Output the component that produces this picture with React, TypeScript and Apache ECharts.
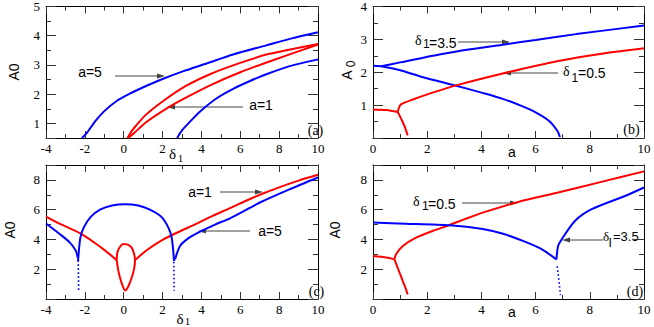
import React, { useEffect, useRef } from "react";
import * as echarts from "echarts";

// ---------- data ----------
// Panel (a): A0 vs delta1
const aBlueUpper = [[-2.15, 0.5], [-1.94, 0.64], [-1.43, 1.1], [-1.0, 1.42], [-0.4, 1.75], [0.29, 2.01], [1.15, 2.28], [2.0, 2.52], [3.04, 2.78], [4.3, 3.06], [5.63, 3.36], [7.34, 3.67], [8.6, 3.9], [10, 4.12]];
const aBlueLower = [[2.75, 0.5], [3.0, 0.76], [3.4, 1.05], [3.92, 1.4], [4.77, 1.85], [5.63, 2.18], [6.5, 2.45], [7.34, 2.68], [8.5, 2.95], [10, 3.19]];
const aRedUpper = [[0.2, 0.5], [0.35, 0.68], [0.63, 0.92], [1.15, 1.3], [2.0, 1.75], [3.2, 2.28], [4.5, 2.7], [6.0, 3.07], [7.5, 3.38], [10, 3.72]];
const aRedLower = [[0.2, 0.5], [0.5, 0.65], [1.15, 1.04], [2.18, 1.5], [3.2, 1.88], [4.5, 2.32], [6.0, 2.75], [7.5, 3.12], [10, 3.7]];

// Panel (b): A0 vs a
const bBlueFlat = [[0, 2.2], [0.3, 2.18]];
const bBlueUpper = [[0.3, 2.18], [1.0, 2.3], [2.45, 2.54], [3.6, 2.7], [4.79, 2.84], [6.0, 2.98], [7.5, 3.16], [10, 3.42]];
const bBlueLower = [[0.3, 2.18], [1.0, 2.06], [1.84, 1.85], [3.07, 1.59], [4.0, 1.38], [4.79, 1.19], [5.5, 0.97], [6.0, 0.78], [6.5, 0.52], [6.8, 0.22], [6.9, 0.03]];
const bRedFlat = [[0, 0.87], [0.5, 0.85], [0.91, 0.79]];
const bRedDown = [[0.91, 0.79], [1.0, 0.65], [1.1, 0.48], [1.2, 0.28], [1.28, 0.08]];
const bRedUp = [[0.91, 0.79], [0.95, 0.9], [1.03, 1.02], [1.47, 1.17], [2.2, 1.38], [3.07, 1.6], [4.79, 1.96], [6.83, 2.34], [8.5, 2.57], [10, 2.73]];

// Panel (c): A0 vs delta1
const cRedLeft = [[-4, 5.54], [-3.28, 5.05], [-2.25, 4.42], [-1.5, 3.78], [-1.0, 3.3], [-0.36, 2.61]];
const cRedLoop = [[-0.36, 2.61], [-0.33, 3.11], [-0.19, 3.51], [-0.02, 3.69], [0.18, 3.67], [0.41, 3.45], [0.54, 3.0], [0.58, 2.61], [0.53, 1.99], [0.41, 1.43], [0.24, 0.86], [0.08, 0.57], [-0.05, 0.86], [-0.19, 1.43], [-0.29, 1.99], [-0.36, 2.61]];
const cRedRight = [[0.62, 2.66], [1.18, 3.27], [2.04, 4.0], [2.9, 4.55], [3.76, 5.06], [4.6, 5.6], [5.47, 6.1], [6.3, 6.6], [7.1, 7.05], [8.0, 7.5], [9.0, 7.95], [10, 8.34]];
const cBlueLeft = [[-4, 5.07], [-3.28, 4.35], [-2.77, 3.79], [-2.46, 3.23], [-2.37, 2.78]];
const cBlueArc = [[-2.35, 2.55], [-2.31, 3.22], [-2.23, 4.12], [-2.06, 4.79], [-1.71, 5.5], [-1.22, 6.0], [-0.6, 6.28], [0.06, 6.37], [0.75, 6.28], [1.35, 6.0], [1.95, 5.5], [2.3, 4.79], [2.47, 4.12], [2.55, 3.22], [2.59, 2.55]];
const cBlueRight = [[2.64, 2.66], [2.9, 3.56], [3.32, 4.07], [3.93, 4.52], [4.7, 5.0], [5.47, 5.42], [7.01, 6.48], [8.5, 7.35], [10, 8.16]];
const cBlueDotL = [[-2.34, 2.6], [-2.32, 0.55]];
const cBlueDotR = [[2.58, 2.5], [2.6, 0.55]];

// Panel (d): A0 vs a
const dRedFlat = [[0, 2.88], [0.49, 2.78], [0.79, 2.66]];
const dRedDown = [[0.79, 2.66], [0.91, 2.1], [1.1, 1.2], [1.2, 0.75], [1.28, 0.3]];
const dRedUp = [[0.79, 2.66], [0.85, 3.0], [1.1, 3.56], [1.59, 4.12], [2.2, 4.57], [2.82, 4.97], [3.44, 5.4], [4.05, 5.8], [5.36, 6.52], [6.83, 7.15], [8.5, 7.9], [10, 8.57]];
const dBlueLeft = [[0, 5.13], [1.22, 5.06], [2.82, 4.95], [4.05, 4.7], [4.8, 4.38], [5.6, 3.85], [6.22, 3.35], [6.77, 2.66]];
const dBlueRight = [[6.77, 2.66], [6.83, 3.56], [6.96, 4.0], [7.45, 5.24], [8.07, 6.03], [9.3, 6.92], [10, 7.49]];
const dBlueDot = [[6.8, 2.2], [6.92, 0.26]];

// axis ranges / ticks
const xRanges = [[-4, 10], [0, 10], [-4, 10], [0, 10]];
const xSteps = [2, 2, 2, 2];
const yRanges = [[0.5, 5], [0, 4], [0, 9], [0, 9]];
const ySteps = [1, 1, 2, 2];
const yShownLabels = [[1, 2, 3, 4, 5], [1, 2, 3, 4], [2, 4, 6, 8], [2, 4, 6, 8]];

const RED = "#ff0000";
const BLUE = "#0000ff";
const SERIF = "'Liberation Serif', 'Times New Roman', serif";
const SANS = "'Liberation Sans', Arial, sans-serif";

const GRIDS = [
  { left: 46, top: 5, width: 272, height: 133 },
  { left: 373, top: 5, width: 271, height: 133 },
  { left: 46, top: 165, width: 272, height: 134 },
  { left: 373, top: 165, width: 271, height: 134 },
];

function lineSeries(data: number[][], color: string, g: number, dotted = false) {
  return {
    type: "line",
    data,
    xAxisIndex: 2 * g,
    yAxisIndex: 2 * g,
    showSymbol: false,
    symbol: "none",
    smooth: dotted ? false : 0.25,
    silent: true,
    clip: true,
    lineStyle: dotted ? { color, width: 1.6, type: [1.6, 2.4] } : { color, width: 2 },
  };
}

const tickColor = "#333";

function makeXAxis(g: number, top: boolean) {
  return {
    type: "value",
    gridIndex: g,
    position: top ? "top" : "bottom",
    min: xRanges[g][0],
    max: xRanges[g][1],
    interval: xSteps[g],
    axisLine: { onZero: false, lineStyle: { color: "#000", width: 1 } },
    axisTick: { show: true, inside: true, length: 7, lineStyle: { color: tickColor } },
    minorTick: { show: true, splitNumber: 2, length: 4, lineStyle: { color: tickColor } },
    splitLine: { show: false },
    axisLabel: top
      ? { show: false }
      : { show: true, fontFamily: SERIF, fontSize: 13, color: "#000", margin: 4 },
  };
}

function makeYAxis(g: number, right: boolean) {
  const base: any = {
    type: "value",
    gridIndex: g,
    position: right ? "right" : "left",
    min: yRanges[g][0],
    max: yRanges[g][1],
    axisLine: { onZero: false, lineStyle: { color: "#000", width: 1 } },
    axisTick: { show: true, inside: true, length: 10, lineStyle: { color: tickColor } },
    minorTick: { show: true, splitNumber: 2, length: 5, lineStyle: { color: tickColor } },
    splitLine: { show: false },
    axisLabel: right
      ? { show: false }
      : {
          show: true,
          fontFamily: SERIF,
          fontSize: 13,
          color: "#000",
          margin: 6,
          formatter: (v: number) => (yShownLabels[g].some((s) => Math.abs(s - v) < 1e-6) ? String(v) : ""),
        },
  };
  if (yRanges[g][0] % ySteps[g] === 0) {
    base.interval = ySteps[g];
  } else {
    base.minInterval = ySteps[g];
    base.maxInterval = ySteps[g];
  }
  return base;
}

function txt(x: number, y: number, text: string, size: number, family: string, align = "center") {
  return {
    type: "text",
    x,
    y,
    silent: true,
    style: {
      text,
      fontSize: size,
      fontFamily: family,
      fill: "#000",
      align,
      verticalAlign: "middle",
      textAlign: align,
      textVerticalAlign: "middle",
    },
  };
}

function arrow(x1: number, y: number, x2: number) {
  const dir = x2 > x1 ? 1 : -1;
  return [
    { type: "line", silent: true, shape: { x1, y1: y, x2: x2 - dir * 5, y2: y }, style: { stroke: "#444", lineWidth: 1 } },
    {
      type: "polygon",
      silent: true,
      shape: { points: [[x2, y], [x2 - dir * 8, y - 2.5], [x2 - dir * 8, y + 2.5]] },
      style: { fill: "#444" },
    },
  ];
}

function rotated(x: number, y: number, parts: any[]) {
  return { type: "group", x, y, rotation: Math.PI / 2, children: parts };
}

export default function App() {
  const ref = useRef<HTMLDivElement>(null);
  useEffect(() => {
    if (!ref.current) return;
    const chart = echarts.init(ref.current, undefined, { renderer: "svg" });
    const xAxis: any[] = [];
    const yAxis: any[] = [];
    for (let g = 0; g < 4; g++) {
      xAxis.push(makeXAxis(g, false), makeXAxis(g, true));
      yAxis.push(makeYAxis(g, false), makeYAxis(g, true));
    }
    const series = [
      lineSeries(aBlueUpper, BLUE, 0),
      lineSeries(aBlueLower, BLUE, 0),
      lineSeries(aRedUpper, RED, 0),
      lineSeries(aRedLower, RED, 0),
      lineSeries(bBlueFlat, BLUE, 1),
      lineSeries(bBlueUpper, BLUE, 1),
      lineSeries(bBlueLower, BLUE, 1),
      lineSeries(bRedFlat, RED, 1),
      lineSeries(bRedDown, RED, 1),
      lineSeries(bRedUp, RED, 1),
      lineSeries(cRedLeft, RED, 2),
      lineSeries(cRedLoop, RED, 2),
      lineSeries(cRedRight, RED, 2),
      lineSeries(cBlueLeft, BLUE, 2),
      lineSeries(cBlueArc, BLUE, 2),
      lineSeries(cBlueRight, BLUE, 2),
      lineSeries(cBlueDotL, BLUE, 2, true),
      lineSeries(cBlueDotR, BLUE, 2, true),
      lineSeries(dRedFlat, RED, 3),
      lineSeries(dRedDown, RED, 3),
      lineSeries(dRedUp, RED, 3),
      lineSeries(dBlueLeft, BLUE, 3),
      lineSeries(dBlueRight, BLUE, 3),
      lineSeries(dBlueDot, BLUE, 3, true),
    ];
    const graphics: any[] = [
      // y-axis titles
      rotated(14, 72, [txt(0, 0, "A0", 14, SANS)]),
      rotated(347, 72, [txt(-3, 0, "A", 14, SANS), txt(8, 4, "0", 12, SANS)]),
      rotated(10, 230, [txt(0, 0, "A0", 14, SANS)]),
      rotated(335, 230, [txt(0, 0, "A0", 14, SANS)]),
      // x-axis titles
      txt(172.5, 154, "δ", 15, SERIF),
      txt(180.5, 158, "1", 11, SERIF),
      txt(512, 152, "a", 14, SANS),
      txt(180, 319, "δ", 15, SERIF),
      txt(187.5, 321, "1", 11, SERIF),
      txt(512, 312, "a", 14, SANS),
      // panel tags
      txt(315.5, 130, "(a)", 14, SERIF),
      txt(631.5, 129, "(b)", 14, SERIF),
      txt(316.5, 291, "(c)", 14, SERIF),
      txt(635, 291, "(d)", 14, SERIF),
      // annotations (a)
      txt(90, 72, "a=5", 14, SANS),
      txt(261, 105, "a=1", 14, SANS),
      // annotations (b)
      txt(415, 40, "δ", 14, SERIF, "left"),
      txt(423, 44, "1", 12, SANS, "left"),
      txt(429, 43, "=3.5", 14, SANS, "left"),
      txt(563, 71, "δ", 14, SERIF, "left"),
      txt(571.5, 78, "1", 12, SANS, "left"),
      txt(578, 73, "=0.5", 14, SANS, "left"),
      // annotations (c)
      txt(200, 192, "a=1", 14, SANS),
      txt(270, 231, "a=5", 14, SANS),
      // annotations (d)
      txt(413, 201, "δ", 14, SERIF, "left"),
      txt(422, 206, "1", 12, SANS, "left"),
      txt(428, 204, "=0.5", 14, SANS, "left"),
      txt(603, 236, "δ", 13, SERIF, "left"),
      txt(608.5, 243, "I", 12, SANS, "left"),
      txt(613, 236, "=3.5", 13, SANS, "left"),
      ...arrow(115, 76, 165),
      ...arrow(243, 107, 167),
      ...arrow(458, 42, 510),
      ...arrow(558, 73, 503),
      ...arrow(220, 192, 263),
      ...arrow(250, 231, 198),
      ...arrow(462, 203, 518),
      ...arrow(603, 240, 562),
    ];
    chart.setOption({
      animation: false,
      backgroundColor: "#fff",
      grid: GRIDS.map((g) => ({ ...g, containLabel: false })),
      xAxis,
      yAxis,
      series,
      graphic: { elements: graphics },
    });
    return () => chart.dispose();
  }, []);
  return <div ref={ref} style={{ position: "absolute", left: 0, top: 0, width: 654, height: 327 }} />;
}
